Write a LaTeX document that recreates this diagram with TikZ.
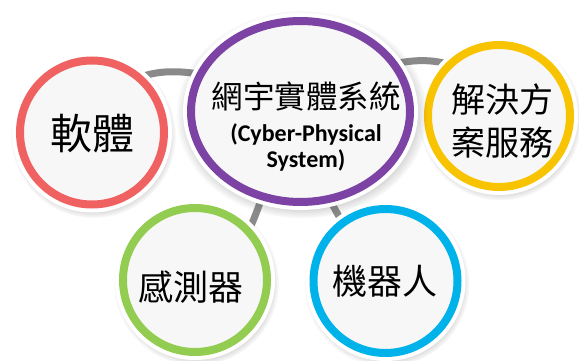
\documentclass[tikz,border=0pt]{standalone}
\usepackage{fontspec}
\setmainfont{Carlito}
\newfontfamily\cjk{Noto Sans CJK TC}
\usetikzlibrary{shapes.geometric,shadows}
\pgfdeclarelayer{background}
\pgfsetlayers{background,main}
\definecolor{ringred}{RGB}{240,98,98}
\definecolor{ringpurple}{RGB}{124,66,164}
\definecolor{ringyellow}{RGB}{248,195,0}
\definecolor{ringgreen}{RGB}{146,204,80}
\definecolor{ringblue}{RGB}{0,178,234}
\definecolor{innerfill}{RGB}{247,247,247}
\definecolor{linkgray}{RGB}{138,138,138}
\begin{document}
\begin{tikzpicture}[x=1pt,y=-1pt,
  bubble/.style={inner sep=0pt, fill=innerfill, line width=8pt,
    circular drop shadow={shadow scale=1.15, shadow xshift=1pt, shadow yshift=-2.5pt, opacity=0.35, fill=black!70},
    preaction={draw=white, line width=16pt}},
  round/.style={bubble, circle},
  oval/.style={bubble, ellipse},
  link/.style={draw=linkgray, line width=7pt},
  cjktext/.style={inner sep=0pt, text=black}
]
\useasboundingbox (0,0) rectangle (579,361);

\node[round, draw=ringred, minimum size=144pt] (red) at (92,132.5) {};
\node[round, draw=ringyellow, minimum size=142pt] (yellow) at (499,116) {};
\node[oval, draw=ringpurple, minimum width=219pt, minimum height=181pt] (purple) at (300.5,111.5) {};
\node[round, draw=ringgreen, minimum size=144pt] (green) at (195,280) {};
\node[round, draw=ringblue, minimum size=144pt] (blue) at (385.5,281) {};

\begin{pgfonlayer}{background}
\draw[link] (red.center) .. controls (120,45) and (210,65) .. (purple.center);
\draw[link] (purple.center) .. controls (380,50) and (470,36) .. (yellow.center);
\draw[link] (green.center) .. controls (255,280) and (262,160) .. (purple.center);
\draw[link] (purple.center) .. controls (305,160) and (340,230) .. (blue.center);
\end{pgfonlayer}

\node[cjktext, font={\cjk\fontsize{42}{50}\selectfont}] (t1) at (92.5,133.5) {軟體};
\node[cjktext, font={\cjk\fontsize{31.5}{38}\selectfont}] (t2) at (306,96.5) {網宇實體系統};
\node[cjktext, anchor=base, font={\bfseries\fontsize{24}{26}\selectfont}] (e1) at (306,141.5) {(Cyber-Physical};
\node[cjktext, anchor=base, font={\bfseries\fontsize{24}{26}\selectfont}] (e2) at (306,167.5) {System)};
\node[cjktext, align=center, font={\cjk\fontsize{34}{43.5}\selectfont}] (t3) at (502.5,120.75) {解決方\\案服務};
\node[cjktext, font={\cjk\fontsize{35}{42}\selectfont}] (t4) at (190.5,287.5) {感測器};
\node[cjktext, font={\cjk\fontsize{35}{42}\selectfont}] (t5) at (385,281) {機器人};
\end{tikzpicture}
\end{document}
